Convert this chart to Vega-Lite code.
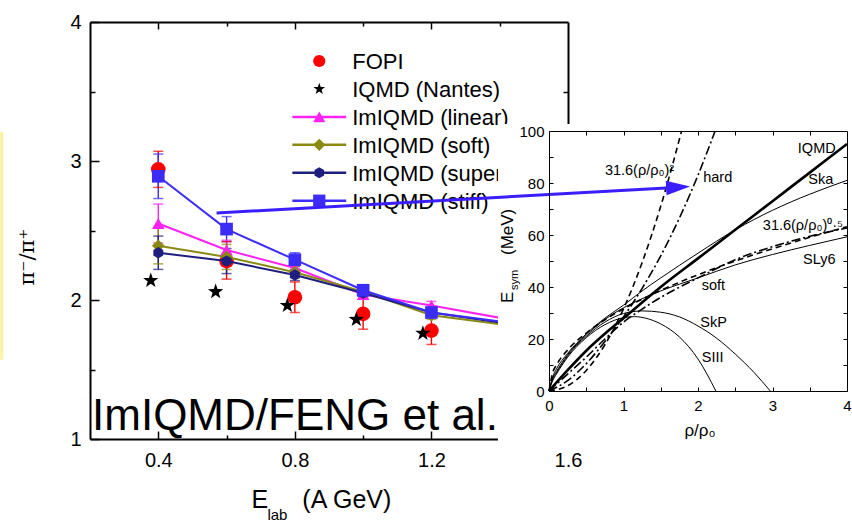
{
  "$schema": "https://vega.github.io/schema/vega-lite/v6.json",
  "width": 852,
  "height": 522,
  "autosize": "none",
  "padding": 0,
  "background": "white",
  "config": {"view": {"stroke": null}, "font": "Liberation Sans", "text": {"font": "Liberation Sans", "color": "black"}},
  "datasets": {
    "pions": [
      {"s": "FOPI", "e": 0.4, "r": 2.94, "lo": 2.81, "hi": 3.07},
      {"s": "FOPI", "e": 0.6, "r": 2.28, "lo": 2.15, "hi": 2.42},
      {"s": "FOPI", "e": 0.8, "r": 2.02, "lo": 1.91, "hi": 2.13},
      {"s": "FOPI", "e": 1.0, "r": 1.90, "lo": 1.79, "hi": 2.01},
      {"s": "FOPI", "e": 1.2, "r": 1.78, "lo": 1.68, "hi": 1.88},
      {"s": "Nantes", "e": 0.378, "r": 2.14},
      {"s": "Nantes", "e": 0.568, "r": 2.06},
      {"s": "Nantes", "e": 0.778, "r": 1.96},
      {"s": "Nantes", "e": 0.98, "r": 1.86},
      {"s": "Nantes", "e": 1.175, "r": 1.76},
      {"s": "linear", "e": 0.4, "r": 2.55, "lo": 2.41, "hi": 2.69},
      {"s": "linear", "e": 0.6, "r": 2.36, "lo": 2.29, "hi": 2.43},
      {"s": "linear", "e": 0.8, "r": 2.23, "lo": 2.19, "hi": 2.27},
      {"s": "linear", "e": 1.0, "r": 2.04, "lo": 2.01, "hi": 2.07},
      {"s": "linear", "e": 1.2, "r": 1.96, "lo": 1.93, "hi": 1.99},
      {"s": "linear", "e": 1.45, "r": 1.85},
      {"s": "soft", "e": 0.4, "r": 2.39, "lo": 2.26, "hi": 2.52},
      {"s": "soft", "e": 0.6, "r": 2.31, "lo": 2.22, "hi": 2.40},
      {"s": "soft", "e": 0.8, "r": 2.20, "lo": 2.16, "hi": 2.24},
      {"s": "soft", "e": 1.0, "r": 2.06, "lo": 2.01, "hi": 2.11},
      {"s": "soft", "e": 1.2, "r": 1.89, "lo": 1.86, "hi": 1.92},
      {"s": "soft", "e": 1.45, "r": 1.81},
      {"s": "super", "e": 0.4, "r": 2.34, "lo": 2.22, "hi": 2.46},
      {"s": "super", "e": 0.6, "r": 2.28, "lo": 2.19, "hi": 2.37},
      {"s": "super", "e": 0.8, "r": 2.18, "lo": 2.14, "hi": 2.22},
      {"s": "super", "e": 1.0, "r": 2.05, "lo": 2.02, "hi": 2.08},
      {"s": "super", "e": 1.2, "r": 1.91, "lo": 1.88, "hi": 1.94},
      {"s": "super", "e": 1.45, "r": 1.82},
      {"s": "stiff", "e": 0.4, "r": 2.89, "lo": 2.73, "hi": 3.05},
      {"s": "stiff", "e": 0.6, "r": 2.51, "lo": 2.42, "hi": 2.60},
      {"s": "stiff", "e": 0.8, "r": 2.29, "lo": 2.24, "hi": 2.34},
      {"s": "stiff", "e": 1.0, "r": 2.07, "lo": 2.03, "hi": 2.11},
      {"s": "stiff", "e": 1.2, "r": 1.91, "lo": 1.88, "hi": 1.94},
      {"s": "stiff", "e": 1.45, "r": 1.83}
    ],
    "keys": [
      {"s": "FOPI", "label": "FOPI"},
      {"s": "Nantes", "label": "IQMD (Nantes)"},
      {"s": "linear", "label": "ImIQMD (linear)"},
      {"s": "soft", "label": "ImIQMD (soft)"},
      {"s": "super", "label": "ImIQMD (super)"},
      {"s": "stiff", "label": "ImIQMD (stiff)"}
    ],
    "esym": [
      {"c": "IQMD", "x": 0, "y": 0}, {"c": "IQMD", "x": 0.25, "y": 8}, {"c": "IQMD", "x": 0.5, "y": 15.5}, {"c": "IQMD", "x": 0.75, "y": 22}, {"c": "IQMD", "x": 1, "y": 28}, {"c": "IQMD", "x": 1.5, "y": 40}, {"c": "IQMD", "x": 2, "y": 51}, {"c": "IQMD", "x": 2.5, "y": 62}, {"c": "IQMD", "x": 3, "y": 73}, {"c": "IQMD", "x": 3.5, "y": 84}, {"c": "IQMD", "x": 4, "y": 95},
      {"c": "Ska", "x": 0, "y": 0}, {"c": "Ska", "x": 0.05, "y": 5.5}, {"c": "Ska", "x": 0.1, "y": 8.5}, {"c": "Ska", "x": 0.25, "y": 14.5}, {"c": "Ska", "x": 0.5, "y": 22}, {"c": "Ska", "x": 0.75, "y": 28}, {"c": "Ska", "x": 1, "y": 33}, {"c": "Ska", "x": 1.25, "y": 38.5}, {"c": "Ska", "x": 1.5, "y": 43.5}, {"c": "Ska", "x": 2, "y": 53}, {"c": "Ska", "x": 2.5, "y": 62}, {"c": "Ska", "x": 3, "y": 69.5}, {"c": "Ska", "x": 3.5, "y": 75.7}, {"c": "Ska", "x": 4, "y": 81},
      {"c": "SLy6", "x": 0, "y": 0}, {"c": "SLy6", "x": 0.05, "y": 5}, {"c": "SLy6", "x": 0.1, "y": 7.5}, {"c": "SLy6", "x": 0.25, "y": 14}, {"c": "SLy6", "x": 0.5, "y": 21.5}, {"c": "SLy6", "x": 0.75, "y": 27.5}, {"c": "SLy6", "x": 1, "y": 32}, {"c": "SLy6", "x": 1.25, "y": 35.5}, {"c": "SLy6", "x": 1.5, "y": 38.5}, {"c": "SLy6", "x": 2, "y": 43.5}, {"c": "SLy6", "x": 2.5, "y": 48.5}, {"c": "SLy6", "x": 3, "y": 52.5}, {"c": "SLy6", "x": 3.5, "y": 56}, {"c": "SLy6", "x": 4, "y": 59.3},
      {"c": "SkP", "x": 0, "y": 0}, {"c": "SkP", "x": 0.05, "y": 4.5}, {"c": "SkP", "x": 0.1, "y": 7}, {"c": "SkP", "x": 0.25, "y": 13.5}, {"c": "SkP", "x": 0.5, "y": 21}, {"c": "SkP", "x": 0.75, "y": 26.5}, {"c": "SkP", "x": 1, "y": 29.8}, {"c": "SkP", "x": 1.25, "y": 30.8}, {"c": "SkP", "x": 1.5, "y": 30.3}, {"c": "SkP", "x": 1.75, "y": 28.5}, {"c": "SkP", "x": 2, "y": 25}, {"c": "SkP", "x": 2.25, "y": 20.3}, {"c": "SkP", "x": 2.5, "y": 14.2}, {"c": "SkP", "x": 2.75, "y": 7.2}, {"c": "SkP", "x": 2.97, "y": 0},
      {"c": "SIII", "x": 0, "y": 0}, {"c": "SIII", "x": 0.05, "y": 4}, {"c": "SIII", "x": 0.1, "y": 6.5}, {"c": "SIII", "x": 0.25, "y": 13}, {"c": "SIII", "x": 0.5, "y": 20.5}, {"c": "SIII", "x": 0.75, "y": 25.5}, {"c": "SIII", "x": 1, "y": 28.2}, {"c": "SIII", "x": 1.15, "y": 28.6}, {"c": "SIII", "x": 1.3, "y": 28}, {"c": "SIII", "x": 1.5, "y": 25.8}, {"c": "SIII", "x": 1.75, "y": 20.8}, {"c": "SIII", "x": 2, "y": 12.3}, {"c": "SIII", "x": 2.24, "y": 0},
      {"c": "sq", "x": 0, "y": 0}, {"c": "sq", "x": 0.25, "y": 2}, {"c": "sq", "x": 0.5, "y": 7.9}, {"c": "sq", "x": 0.75, "y": 17.8}, {"c": "sq", "x": 1, "y": 31.6}, {"c": "sq", "x": 1.25, "y": 49.4}, {"c": "sq", "x": 1.5, "y": 71.1}, {"c": "sq", "x": 1.78, "y": 100},
      {"c": "sqrt", "x": 0, "y": 0}, {"c": "sqrt", "x": 0.05, "y": 7.1}, {"c": "sqrt", "x": 0.1, "y": 10}, {"c": "sqrt", "x": 0.25, "y": 15.8}, {"c": "sqrt", "x": 0.5, "y": 22.3}, {"c": "sqrt", "x": 0.75, "y": 27.4}, {"c": "sqrt", "x": 1, "y": 31.6}, {"c": "sqrt", "x": 1.5, "y": 38.7}, {"c": "sqrt", "x": 2, "y": 44.7}, {"c": "sqrt", "x": 2.5, "y": 50}, {"c": "sqrt", "x": 3, "y": 54.7}, {"c": "sqrt", "x": 3.5, "y": 59.1}, {"c": "sqrt", "x": 4, "y": 63.2},
      {"c": "hard", "x": 0, "y": 0}, {"c": "hard", "x": 0.25, "y": 4}, {"c": "hard", "x": 0.5, "y": 10.5}, {"c": "hard", "x": 0.75, "y": 19}, {"c": "hard", "x": 1, "y": 28.5}, {"c": "hard", "x": 1.25, "y": 39.5}, {"c": "hard", "x": 1.5, "y": 52}, {"c": "hard", "x": 1.75, "y": 66.5}, {"c": "hard", "x": 2, "y": 83}, {"c": "hard", "x": 2.23, "y": 100},
      {"c": "soft", "x": 0, "y": 0}, {"c": "soft", "x": 0.25, "y": 6.5}, {"c": "soft", "x": 0.5, "y": 13}, {"c": "soft", "x": 0.75, "y": 20}, {"c": "soft", "x": 1, "y": 26.5}, {"c": "soft", "x": 1.25, "y": 31.5}, {"c": "soft", "x": 1.5, "y": 36}, {"c": "soft", "x": 2, "y": 43.5}, {"c": "soft", "x": 2.5, "y": 50.5}, {"c": "soft", "x": 3, "y": 55.5}, {"c": "soft", "x": 3.5, "y": 59.5}, {"c": "soft", "x": 4, "y": 62.7}
    ],
    "notes": [
      {"t": "31.6(ρ/ρ₀)²", "x": 0.75, "y": 83},
      {"t": "hard", "x": 2.07, "y": 80.4},
      {"t": "IQMD", "x": 3.34, "y": 91.5},
      {"t": "Ska", "x": 3.48, "y": 79.6},
      {"t": "31.6(ρ/ρ₀)⁰·⁵", "x": 2.87, "y": 62},
      {"t": "SLy6", "x": 3.41, "y": 49},
      {"t": "soft", "x": 2.05, "y": 38.8},
      {"t": "SkP", "x": 2.03, "y": 24.6},
      {"t": "SIII", "x": 2.05, "y": 11.2}
    ]
  },
  "resolve": {"scale": {"x": "independent", "y": "independent"}},
  "layer": [
    {
      "data": {"values": [{}]},
      "mark": {"type": "point", "opacity": 0},
      "encoding": {
        "x": {"datum": 1, "type": "quantitative", "scale": {"domain": [0.2, 1.6], "range": [90, 568], "nice": false, "zero": false},
          "axis": {"orient": "bottom", "offset": -83, "values": [0.4, 0.8, 1.2, 1.6], "format": ".1f", "tickSize": -8, "labelPadding": 19, "labelFontSize": 20, "labelColor": "black", "labelFlush": false, "tickColor": "black", "tickWidth": 1.5, "domainColor": "black", "domainWidth": 2, "grid": false, "title": null}},
        "y": {"datum": 2, "type": "quantitative", "scale": {"domain": [1, 4], "range": [439, 22], "nice": false, "zero": false},
          "axis": {"orient": "left", "offset": -90, "values": [1, 2, 3, 4], "format": "d", "tickSize": -9, "labelPadding": 18, "labelFontSize": 20, "labelColor": "black", "labelFlush": false, "tickColor": "black", "tickWidth": 1.5, "domainColor": "black", "domainWidth": 2, "grid": false, "title": null}}
      }
    },
    {
      "layer": [
        {
          "data": {"values": [{}]},
          "mark": {"type": "rect", "color": "#fcf0a2"},
          "encoding": {
            "x": {"datum": -0.063, "type": "quantitative", "scale": {"domain": [0.2, 1.6], "range": [90, 568], "nice": false, "zero": false}, "axis": null},
            "x2": {"datum": -0.054},
            "y": {"datum": 3.21, "type": "quantitative", "scale": {"domain": [1, 4], "range": [439, 22], "nice": false, "zero": false}, "axis": null},
            "y2": {"datum": 1.57}
          }
        },
        {
          "data": {"name": "pions"},
          "transform": [{"filter": "isValid(datum.lo)"}],
          "mark": {"type": "rule", "strokeWidth": 1.4},
          "encoding": {
            "x": {"field": "e", "type": "quantitative", "scale": {"domain": [0.2, 1.6], "range": [90, 568], "nice": false, "zero": false}, "axis": null},
            "y": {"field": "lo", "type": "quantitative", "scale": {"domain": [1, 4], "range": [439, 22], "nice": false, "zero": false}, "axis": null},
            "y2": {"field": "hi"},
            "color": {"field": "s", "type": "nominal", "scale": {"domain": ["FOPI", "Nantes", "linear", "soft", "super", "stiff"], "range": ["#ff0000", "#000000", "#ff22f2", "#8a8a12", "#1e1e7e", "#3c2cf8"]}, "legend": null}
          }
        },
        {
          "data": {"name": "pions"},
          "transform": [{"filter": "isValid(datum.lo)"}],
          "mark": {"type": "tick", "orient": "horizontal", "size": 10, "thickness": 1.5},
          "encoding": {
            "x": {"field": "e", "type": "quantitative", "scale": {"domain": [0.2, 1.6], "range": [90, 568], "nice": false, "zero": false}, "axis": null},
            "y": {"field": "lo", "type": "quantitative", "scale": {"domain": [1, 4], "range": [439, 22], "nice": false, "zero": false}, "axis": null},
            "color": {"field": "s", "type": "nominal", "scale": {"domain": ["FOPI", "Nantes", "linear", "soft", "super", "stiff"], "range": ["#ff0000", "#000000", "#ff22f2", "#8a8a12", "#1e1e7e", "#3c2cf8"]}, "legend": null}
          }
        },
        {
          "data": {"name": "pions"},
          "transform": [{"filter": "isValid(datum.hi)"}],
          "mark": {"type": "tick", "orient": "horizontal", "size": 10, "thickness": 1.5},
          "encoding": {
            "x": {"field": "e", "type": "quantitative", "scale": {"domain": [0.2, 1.6], "range": [90, 568], "nice": false, "zero": false}, "axis": null},
            "y": {"field": "hi", "type": "quantitative", "scale": {"domain": [1, 4], "range": [439, 22], "nice": false, "zero": false}, "axis": null},
            "color": {"field": "s", "type": "nominal", "scale": {"domain": ["FOPI", "Nantes", "linear", "soft", "super", "stiff"], "range": ["#ff0000", "#000000", "#ff22f2", "#8a8a12", "#1e1e7e", "#3c2cf8"]}, "legend": null}
          }
        },
        {
          "data": {"name": "pions"},
          "transform": [{"filter": "datum.s == 'FOPI'"}],
          "mark": {"type": "point", "filled": true, "opacity": 1, "shape": "circle", "size": 215, "color": "#ff0000"},
          "encoding": {
            "x": {"field": "e", "type": "quantitative", "scale": {"domain": [0.2, 1.6], "range": [90, 568], "nice": false, "zero": false}, "axis": null},
            "y": {"field": "r", "type": "quantitative", "scale": {"domain": [1, 4], "range": [439, 22], "nice": false, "zero": false}, "axis": null}
          }
        },
        {
          "data": {"name": "pions"},
          "transform": [{"filter": "datum.s != 'FOPI' && datum.s != 'Nantes'"}],
          "mark": {"type": "line", "strokeWidth": 2},
          "encoding": {
            "x": {"field": "e", "type": "quantitative", "scale": {"domain": [0.2, 1.6], "range": [90, 568], "nice": false, "zero": false}, "axis": null},
            "y": {"field": "r", "type": "quantitative", "scale": {"domain": [1, 4], "range": [439, 22], "nice": false, "zero": false}, "axis": null},
            "color": {"field": "s", "type": "nominal", "scale": {"domain": ["FOPI", "Nantes", "linear", "soft", "super", "stiff"], "range": ["#ff0000", "#000000", "#ff22f2", "#8a8a12", "#1e1e7e", "#3c2cf8"]}, "legend": null}
          }
        },
        {
          "data": {"name": "pions"},
          "transform": [{"filter": "datum.s != 'FOPI' && datum.s != 'Nantes'"}],
          "mark": {"type": "point", "filled": true, "opacity": 1, "size": 160},
          "encoding": {
            "x": {"field": "e", "type": "quantitative", "scale": {"domain": [0.2, 1.6], "range": [90, 568], "nice": false, "zero": false}, "axis": null},
            "y": {"field": "r", "type": "quantitative", "scale": {"domain": [1, 4], "range": [439, 22], "nice": false, "zero": false}, "axis": null},
            "color": {"field": "s", "type": "nominal", "scale": {"domain": ["FOPI", "Nantes", "linear", "soft", "super", "stiff"], "range": ["#ff0000", "#000000", "#ff22f2", "#8a8a12", "#1e1e7e", "#3c2cf8"]}, "legend": null},
            "shape": {"field": "s", "type": "nominal", "scale": {"domain": ["FOPI", "Nantes", "linear", "soft", "super", "stiff"], "range": ["circle", "M0,-1L0.235,-0.324L0.951,-0.309L0.38,0.124L0.588,0.809L0,0.4L-0.588,0.809L-0.38,0.124L-0.951,-0.309L-0.235,-0.324Z", "triangle-up", "diamond", "M0,-0.9L0.78,-0.45L0.78,0.45L0,0.9L-0.78,0.45L-0.78,-0.45Z", "square"]}, "legend": null}
          }
        },
        {
          "data": {"name": "pions"},
          "transform": [{"filter": "datum.s == 'Nantes'"}],
          "mark": {"type": "point", "filled": true, "opacity": 1, "size": 260, "color": "black", "shape": "M0,-1L0.235,-0.324L0.951,-0.309L0.38,0.124L0.588,0.809L0,0.4L-0.588,0.809L-0.38,0.124L-0.951,-0.309L-0.235,-0.324Z"},
          "encoding": {
            "x": {"field": "e", "type": "quantitative", "scale": {"domain": [0.2, 1.6], "range": [90, 568], "nice": false, "zero": false}, "axis": null},
            "y": {"field": "r", "type": "quantitative", "scale": {"domain": [1, 4], "range": [439, 22], "nice": false, "zero": false}, "axis": null}
          }
        },
        {
          "data": {"values": [{}]},
          "mark": {"type": "text", "text": "E", "fontSize": 25, "align": "left", "baseline": "alphabetic"},
          "encoding": {
            "x": {"datum": 0.673, "type": "quantitative", "scale": {"domain": [0.2, 1.6], "range": [90, 568], "nice": false, "zero": false}, "axis": null},
            "y": {"datum": 0.504, "type": "quantitative", "scale": {"domain": [1, 4], "range": [439, 22], "nice": false, "zero": false}, "axis": null}
          }
        },
        {
          "data": {"values": [{}]},
          "mark": {"type": "text", "text": "lab", "fontSize": 15, "align": "left", "baseline": "alphabetic"},
          "encoding": {
            "x": {"datum": 0.7197, "type": "quantitative", "scale": {"domain": [0.2, 1.6], "range": [90, 568], "nice": false, "zero": false}, "axis": null},
            "y": {"datum": 0.417, "type": "quantitative", "scale": {"domain": [1, 4], "range": [439, 22], "nice": false, "zero": false}, "axis": null}
          }
        },
        {
          "data": {"values": [{}]},
          "mark": {"type": "text", "text": "(A GeV)", "fontSize": 25, "align": "left", "baseline": "alphabetic"},
          "encoding": {
            "x": {"datum": 0.822, "type": "quantitative", "scale": {"domain": [0.2, 1.6], "range": [90, 568], "nice": false, "zero": false}, "axis": null},
            "y": {"datum": 0.504, "type": "quantitative", "scale": {"domain": [1, 4], "range": [439, 22], "nice": false, "zero": false}, "axis": null}
          }
        },
        {
          "data": {"values": [{}]},
          "mark": {"type": "text", "text": "π⁻/π⁺", "font": "DejaVu Serif", "fontSize": 21, "angle": 270, "align": "center", "baseline": "alphabetic"},
          "encoding": {
            "x": {"datum": 0.0365, "type": "quantitative", "scale": {"domain": [0.2, 1.6], "range": [90, 568], "nice": false, "zero": false}, "axis": null},
            "y": {"datum": 2.309, "type": "quantitative", "scale": {"domain": [1, 4], "range": [439, 22], "nice": false, "zero": false}, "axis": null}
          }
        }
      ]
    },
    {
      "data": {"values": [{}]},
      "mark": {"type": "point", "opacity": 0},
      "encoding": {
        "x": {"datum": 1, "type": "quantitative", "scale": {"domain": [0.2, 1.6], "range": [90, 568], "nice": false, "zero": false},
          "axis": {"orient": "bottom", "offset": -83, "values": [0.6, 1.0, 1.4], "labels": false, "domain": false, "tickSize": -4, "tickColor": "black", "tickWidth": 1.5, "grid": false, "title": null}},
        "y": {"datum": 2, "type": "quantitative", "scale": {"domain": [1, 4], "range": [439, 22], "nice": false, "zero": false},
          "axis": {"orient": "left", "offset": -90, "values": [1.5, 2.5, 3.5], "labels": false, "domain": false, "tickSize": -5, "tickColor": "black", "tickWidth": 1.5, "grid": false, "title": null}}
      }
    },
    {
      "data": {"values": [{}]},
      "mark": {"type": "point", "opacity": 0},
      "encoding": {
        "x": {"datum": 1, "type": "quantitative", "scale": {"domain": [0.2, 1.6], "range": [90, 568], "nice": false, "zero": false},
          "axis": {"orient": "top", "offset": -22, "values": [0.4, 0.8, 1.2], "labels": false, "tickSize": -7, "tickColor": "black", "tickWidth": 1.5, "domainColor": "black", "domainWidth": 2, "grid": false, "title": null}},
        "y": {"datum": 2, "type": "quantitative", "scale": {"domain": [1, 4], "range": [439, 22], "nice": false, "zero": false},
          "axis": {"orient": "right", "offset": -284, "values": [2, 3], "labels": false, "tickSize": -9, "tickColor": "black", "tickWidth": 1.5, "domainColor": "black", "domainWidth": 2, "grid": false, "title": null}}
      }
    },
    {
      "data": {"values": [{}]},
      "mark": {"type": "point", "opacity": 0},
      "encoding": {
        "x": {"datum": 1, "type": "quantitative", "scale": {"domain": [0.2, 1.6], "range": [90, 568], "nice": false, "zero": false},
          "axis": {"orient": "top", "offset": -22, "values": [0.6, 1.0, 1.4], "labels": false, "domain": false, "tickSize": -4, "tickColor": "black", "tickWidth": 1.5, "grid": false, "title": null}},
        "y": {"datum": 2, "type": "quantitative", "scale": {"domain": [1, 4], "range": [439, 22], "nice": false, "zero": false},
          "axis": {"orient": "right", "offset": -284, "values": [1.5, 2.5, 3.5], "labels": false, "domain": false, "tickSize": -5, "tickColor": "black", "tickWidth": 1.5, "grid": false, "title": null}}
      }
    },
    {
      "data": {"name": "keys"},
      "layer": [
        {
          "transform": [{"filter": "datum.s != 'FOPI' && datum.s != 'Nantes'"}],
          "mark": {"type": "rule", "strokeWidth": 2.5},
          "encoding": {
            "x": {"datum": 0.7927, "type": "quantitative", "scale": {"domain": [0.2, 1.6], "range": [90, 568], "nice": false, "zero": false}, "axis": null},
            "x2": {"datum": 0.9504},
            "y": {"field": "s", "type": "ordinal", "scale": {"type": "point", "domain": ["FOPI", "Nantes", "linear", "soft", "super", "stiff"], "range": [61, 200.7], "padding": 0}, "axis": null},
            "color": {"field": "s", "type": "nominal", "scale": {"domain": ["FOPI", "Nantes", "linear", "soft", "super", "stiff"], "range": ["#ff0000", "#000000", "#ff22f2", "#8a8a12", "#1e1e7e", "#3c2cf8"]}, "legend": null}
          }
        },
        {
          "mark": {"type": "point", "filled": true, "opacity": 1, "size": 150},
          "encoding": {
            "x": {"datum": 0.8715, "type": "quantitative", "scale": {"domain": [0.2, 1.6], "range": [90, 568], "nice": false, "zero": false}, "axis": null},
            "y": {"field": "s", "type": "ordinal", "scale": {"type": "point", "domain": ["FOPI", "Nantes", "linear", "soft", "super", "stiff"], "range": [61, 200.7], "padding": 0}, "axis": null},
            "color": {"field": "s", "type": "nominal", "scale": {"domain": ["FOPI", "Nantes", "linear", "soft", "super", "stiff"], "range": ["#ff0000", "#000000", "#ff22f2", "#8a8a12", "#1e1e7e", "#3c2cf8"]}, "legend": null},
            "shape": {"field": "s", "type": "nominal", "scale": {"domain": ["FOPI", "Nantes", "linear", "soft", "super", "stiff"], "range": ["circle", "M0,-1L0.235,-0.324L0.951,-0.309L0.38,0.124L0.588,0.809L0,0.4L-0.588,0.809L-0.38,0.124L-0.951,-0.309L-0.235,-0.324Z", "triangle-up", "diamond", "M0,-0.9L0.78,-0.45L0.78,0.45L0,0.9L-0.78,0.45L-0.78,-0.45Z", "square"]}, "legend": null}
          }
        },
        {
          "mark": {"type": "text", "fontSize": 22, "align": "left", "baseline": "middle", "dy": 1},
          "encoding": {
            "x": {"datum": 0.968, "type": "quantitative", "scale": {"domain": [0.2, 1.6], "range": [90, 568], "nice": false, "zero": false}, "axis": null},
            "y": {"field": "s", "type": "ordinal", "scale": {"type": "point", "domain": ["FOPI", "Nantes", "linear", "soft", "super", "stiff"], "range": [61, 200.7], "padding": 0}, "axis": null},
            "text": {"field": "label"}
          }
        }
      ]
    },
    {
      "layer": [
        {
          "data": {"values": [{}]},
          "mark": {"type": "rect", "color": "white"},
          "encoding": {
            "x": {"datum": -0.685, "type": "quantitative", "scale": {"domain": [0, 4], "range": [549, 847], "nice": false, "zero": false}, "axis": null},
            "x2": {"datum": 4.07},
            "y": {"datum": 102.7, "type": "quantitative", "scale": {"domain": [0, 100], "range": [391, 131], "nice": false, "zero": false}, "axis": null},
            "y2": {"datum": -20.8}
          }
        },
        {
          "data": {"name": "esym"},
          "transform": [{"filter": "datum.c == 'Ska' || datum.c == 'SLy6' || datum.c == 'SkP' || datum.c == 'SIII'"}],
          "mark": {"type": "line", "color": "black", "strokeWidth": 1, "interpolate": "monotone"},
          "encoding": {
            "x": {"field": "x", "type": "quantitative", "scale": {"domain": [0, 4], "range": [549, 847], "nice": false, "zero": false}, "axis": null},
            "y": {"field": "y", "type": "quantitative", "scale": {"domain": [0, 100], "range": [391, 131], "nice": false, "zero": false}, "axis": null},
            "detail": {"field": "c", "type": "nominal"}
          }
        },
        {
          "data": {"name": "esym"},
          "transform": [{"filter": "datum.c == 'IQMD'"}],
          "mark": {"type": "line", "color": "black", "strokeWidth": 2.6, "interpolate": "monotone"},
          "encoding": {
            "x": {"field": "x", "type": "quantitative", "scale": {"domain": [0, 4], "range": [549, 847], "nice": false, "zero": false}, "axis": null},
            "y": {"field": "y", "type": "quantitative", "scale": {"domain": [0, 100], "range": [391, 131], "nice": false, "zero": false}, "axis": null}
          }
        },
        {
          "data": {"name": "esym"},
          "transform": [{"filter": "datum.c == 'sq' || datum.c == 'sqrt'"}],
          "mark": {"type": "line", "color": "black", "strokeWidth": 1.6, "strokeDash": [6, 4], "interpolate": "monotone"},
          "encoding": {
            "x": {"field": "x", "type": "quantitative", "scale": {"domain": [0, 4], "range": [549, 847], "nice": false, "zero": false}, "axis": null},
            "y": {"field": "y", "type": "quantitative", "scale": {"domain": [0, 100], "range": [391, 131], "nice": false, "zero": false}, "axis": null},
            "detail": {"field": "c", "type": "nominal"}
          }
        },
        {
          "data": {"name": "esym"},
          "transform": [{"filter": "datum.c == 'hard' || datum.c == 'soft'"}],
          "mark": {"type": "line", "color": "black", "strokeWidth": 1.6, "strokeDash": [9, 3, 2, 3], "interpolate": "monotone"},
          "encoding": {
            "x": {"field": "x", "type": "quantitative", "scale": {"domain": [0, 4], "range": [549, 847], "nice": false, "zero": false}, "axis": null},
            "y": {"field": "y", "type": "quantitative", "scale": {"domain": [0, 100], "range": [391, 131], "nice": false, "zero": false}, "axis": null},
            "detail": {"field": "c", "type": "nominal"}
          }
        },
        {
          "data": {"name": "notes"},
          "mark": {"type": "text", "align": "left", "baseline": "alphabetic", "fontSize": 14.5},
          "encoding": {
            "x": {"field": "x", "type": "quantitative", "scale": {"domain": [0, 4], "range": [549, 847], "nice": false, "zero": false}, "axis": null},
            "y": {"field": "y", "type": "quantitative", "scale": {"domain": [0, 100], "range": [391, 131], "nice": false, "zero": false}, "axis": null},
            "text": {"field": "t"}
          }
        },
        {
          "data": {"values": [{}]},
          "mark": {"type": "text", "text": "ρ/ρ₀", "fontSize": 17, "align": "center", "baseline": "alphabetic"},
          "encoding": {
            "x": {"datum": 2.027, "type": "quantitative", "scale": {"domain": [0, 4], "range": [549, 847], "nice": false, "zero": false}, "axis": null},
            "y": {"datum": -17.3, "type": "quantitative", "scale": {"domain": [0, 100], "range": [391, 131], "nice": false, "zero": false}, "axis": null}
          }
        },
        {
          "data": {"values": [{}]},
          "mark": {"type": "text", "text": "E", "fontSize": 17, "angle": 270, "align": "left", "baseline": "alphabetic"},
          "encoding": {
            "x": {"datum": -0.483, "type": "quantitative", "scale": {"domain": [0, 4], "range": [549, 847], "nice": false, "zero": false}, "axis": null},
            "y": {"datum": 33.8, "type": "quantitative", "scale": {"domain": [0, 100], "range": [391, 131], "nice": false, "zero": false}, "axis": null}
          }
        },
        {
          "data": {"values": [{}]},
          "mark": {"type": "text", "text": "sym", "fontSize": 11, "angle": 270, "align": "left", "baseline": "alphabetic"},
          "encoding": {
            "x": {"datum": -0.416, "type": "quantitative", "scale": {"domain": [0, 4], "range": [549, 847], "nice": false, "zero": false}, "axis": null},
            "y": {"datum": 38.8, "type": "quantitative", "scale": {"domain": [0, 100], "range": [391, 131], "nice": false, "zero": false}, "axis": null}
          }
        },
        {
          "data": {"values": [{}]},
          "mark": {"type": "text", "text": "(MeV)", "fontSize": 17, "angle": 270, "align": "left", "baseline": "alphabetic"},
          "encoding": {
            "x": {"datum": -0.483, "type": "quantitative", "scale": {"domain": [0, 4], "range": [549, 847], "nice": false, "zero": false}, "axis": null},
            "y": {"datum": 52.3, "type": "quantitative", "scale": {"domain": [0, 100], "range": [391, 131], "nice": false, "zero": false}, "axis": null}
          }
        }
      ]
    },
    {
      "data": {"values": [{}]},
      "mark": {"type": "point", "opacity": 0},
      "encoding": {
        "x": {"datum": 2, "type": "quantitative", "scale": {"domain": [0, 4], "range": [549, 847], "nice": false, "zero": false},
          "axis": {"orient": "bottom", "offset": -131, "values": [0, 1, 2, 3, 4], "format": "d", "tickSize": -4, "labelPadding": 11, "labelFontSize": 15, "labelColor": "black", "labelFlush": false, "tickColor": "black", "tickWidth": 1, "domainColor": "black", "domainWidth": 1, "grid": false, "title": null, "zindex": 1}},
        "y": {"datum": 50, "type": "quantitative", "scale": {"domain": [0, 100], "range": [391, 131], "nice": false, "zero": false},
          "axis": {"orient": "left", "offset": -549, "values": [0, 20, 40, 60, 80, 100], "format": "d", "tickSize": -4, "labelPadding": 9, "labelFontSize": 15, "labelColor": "black", "labelFlush": false, "tickColor": "black", "tickWidth": 1, "domainColor": "black", "domainWidth": 1, "grid": false, "title": null, "zindex": 1}}
      }
    },
    {
      "data": {"values": [{}]},
      "mark": {"type": "point", "opacity": 0},
      "encoding": {
        "x": {"datum": 2, "type": "quantitative", "scale": {"domain": [0, 4], "range": [549, 847], "nice": false, "zero": false},
          "axis": {"orient": "bottom", "offset": -131, "values": [0.5, 1.5, 2.5, 3.5], "labels": false, "domain": false, "tickSize": -4, "tickColor": "black", "tickWidth": 1, "grid": false, "title": null, "zindex": 1}},
        "y": {"datum": 50, "type": "quantitative", "scale": {"domain": [0, 100], "range": [391, 131], "nice": false, "zero": false},
          "axis": {"orient": "left", "offset": -549, "values": [10, 30, 50, 70, 90], "labels": false, "domain": false, "tickSize": -4, "tickColor": "black", "tickWidth": 1, "grid": false, "title": null, "zindex": 1}}
      }
    },
    {
      "data": {"values": [{}]},
      "mark": {"type": "point", "opacity": 0},
      "encoding": {
        "x": {"datum": 2, "type": "quantitative", "scale": {"domain": [0, 4], "range": [549, 847], "nice": false, "zero": false},
          "axis": {"orient": "top", "offset": -131, "values": [0.5, 1, 1.5, 2, 2.5, 3, 3.5], "labels": false, "tickSize": -4, "tickColor": "black", "tickWidth": 1, "domainColor": "black", "domainWidth": 1, "grid": false, "title": null, "zindex": 1}},
        "y": {"datum": 50, "type": "quantitative", "scale": {"domain": [0, 100], "range": [391, 131], "nice": false, "zero": false},
          "axis": {"orient": "right", "offset": -5, "values": [10, 20, 30, 40, 50, 60, 70, 80, 90], "labels": false, "tickSize": -4, "tickColor": "black", "tickWidth": 1, "domainColor": "black", "domainWidth": 1, "grid": false, "title": null, "zindex": 1}}
      }
    },
    {
      "layer": [
        {
          "data": {"values": [{}]},
          "mark": {"type": "rule", "color": "#3a1eff", "strokeWidth": 3},
          "encoding": {
            "x": {"datum": 0.5708, "type": "quantitative", "scale": {"domain": [0.2, 1.6], "range": [90, 568], "nice": false, "zero": false}, "axis": null},
            "x2": {"datum": 1.8876},
            "y": {"datum": 2.626, "type": "quantitative", "scale": {"domain": [1, 4], "range": [439, 22], "nice": false, "zero": false}, "axis": null},
            "y2": {"datum": 2.806}
          }
        },
        {
          "data": {"values": [{}]},
          "mark": {"type": "point", "filled": true, "opacity": 1, "color": "#3a1eff", "shape": "M-1,-0.6L1,0L-1,0.6Z", "size": 576, "angle": 356.8},
          "encoding": {
            "x": {"datum": 1.9226, "type": "quantitative", "scale": {"domain": [0.2, 1.6], "range": [90, 568], "nice": false, "zero": false}, "axis": null},
            "y": {"datum": 2.811, "type": "quantitative", "scale": {"domain": [1, 4], "range": [439, 22], "nice": false, "zero": false}, "axis": null}
          }
        },
        {
          "data": {"values": [{}]},
          "mark": {"type": "text", "text": "ImIQMD/FENG et al.", "fontSize": 44, "align": "left", "baseline": "alphabetic"},
          "encoding": {
            "x": {"datum": 0.206, "type": "quantitative", "scale": {"domain": [0.2, 1.6], "range": [90, 568], "nice": false, "zero": false}, "axis": null},
            "y": {"datum": 1.065, "type": "quantitative", "scale": {"domain": [1, 4], "range": [439, 22], "nice": false, "zero": false}, "axis": null}
          }
        }
      ]
    }
  ]
}
